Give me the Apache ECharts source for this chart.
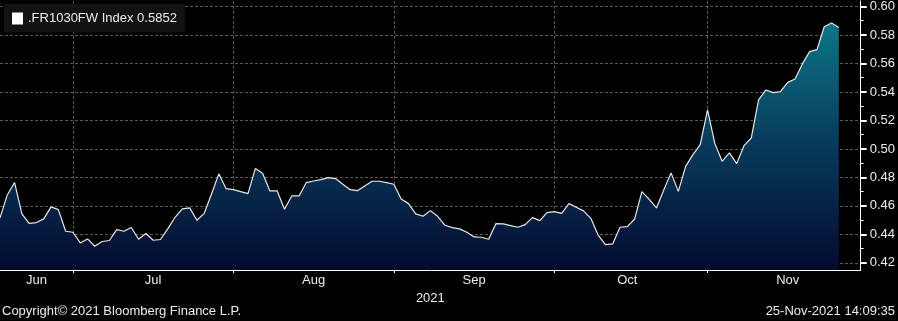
<!DOCTYPE html>
<html>
<head>
<meta charset="utf-8">
<title>.FR1030FW Index</title>
<script src="https://cdn.jsdelivr.net/npm/echarts@6/dist/echarts.min.js"></script>
<style>
  html, body { margin: 0; padding: 0; background: #000; }
  #chart { width: 898px; height: 321px; }
</style>
</head>
<body>
<div id="chart"></div>
<script>
// series name + last value shown in the legend box
const seriesName = '.FR1030FW Index'
const lastValue = '0.5852'

// business-day axis, Jun 17 2021 -> Nov 30 2021 (data stops on Nov 25)
const startDate = '2021-06-17'
const endDate = '2021-11-30'
const monthLabels = ['Jun', 'Jul', 'Aug', 'Sep', 'Oct', 'Nov']
const yearLabel = '2021'

// right axis labels
const yTicks = [0.42, 0.44, 0.46, 0.48, 0.50, 0.52, 0.54, 0.56, 0.58, 0.60]

// values, one per business day
const values = [
  0.4516, 0.4677, 0.4764, 0.4544, 0.4478, 0.4483, 0.4509, 0.4593, 0.4574, 0.4422,
  0.4415, 0.4340, 0.4368, 0.4317, 0.4350, 0.4357, 0.4434, 0.4422, 0.4448, 0.4366,
  0.4406, 0.4359, 0.4364, 0.4439, 0.4520, 0.4579, 0.4586, 0.4499, 0.4548, 0.4684,
  0.4825, 0.4721, 0.4714, 0.4700, 0.4686, 0.4862, 0.4829, 0.4705, 0.4705, 0.4576,
  0.4670, 0.4670,
  0.4764, 0.4775, 0.4785, 0.4799, 0.4792, 0.4752, 0.4714, 0.4707, 0.4740, 0.4773,
  0.4773, 0.4764, 0.4752, 0.4649, 0.4616, 0.4544, 0.4527, 0.4567, 0.4527, 0.4464,
  0.4448, 0.4439, 0.4415, 0.4382, 0.4380, 0.4366, 0.4476, 0.4474, 0.4462, 0.4450,
  0.4469, 0.4518, 0.4497, 0.4553, 0.4560, 0.4548, 0.4616, 0.4590, 0.4565, 0.4513,
  0.4395,
  0.4328, 0.4333, 0.4450, 0.4455, 0.4506, 0.4700, 0.4646, 0.4586, 0.4712, 0.4832,
  0.4702, 0.4878, 0.4960, 0.5030, 0.5274, 0.5039, 0.4913, 0.4972, 0.4897, 0.5023,
  0.5077, 0.5344, 0.5414, 0.5395, 0.5402, 0.5467, 0.5491, 0.5597, 0.5683, 0.5697,
  0.5858, 0.5884, 0.5852
]

const copyrightText = 'Copyright\u00a9 2021 Bloomberg Finance L.P.'
const stampText = '25-Nov-2021 14:09:35'

const fontName = 'Liberation Sans'
const gridColor = 'rgba(175,175,175,0.5)'

// build the weekday list for the category axis
function businessDays(from, to) {
  const out = []
  const d = new Date(from + 'T00:00:00Z')
  const end = new Date(to + 'T00:00:00Z')
  while (d <= end) {
    const wd = d.getUTCDay()
    if (wd !== 0 && wd !== 6) out.push(d.toISOString().slice(0, 10))
    d.setUTCDate(d.getUTCDate() + 1)
  }
  return out
}

const dates = businessDays(startDate, endDate)
const seriesData = dates.map((d, i) => (i < values.length ? values[i] : null))

// first index of every month, and the label slot in the middle of it
const monthStarts = []
dates.forEach((d, i) => {
  if (i === 0 || d.slice(5, 7) !== dates[i - 1].slice(5, 7)) monthStarts.push(i)
})
const labelSlots = monthStarts.map((s, k) => {
  const next = k + 1 < monthStarts.length ? monthStarts[k + 1] : dates.length
  return Math.floor((s + next) / 2)
})

const chart = echarts.init(document.getElementById('chart'))

const option = {
  backgroundColor: '#000',
  animation: false,
  grid: {
    left: 0,
    top: 0,
    right: 37,
    bottom: 51,
    containLabel: false
  },
  legend: {
    left: 4,
    top: 4,
    icon: 'rect',
    itemWidth: 11,
    itemHeight: 12,
    padding: [8, 8, 7, 8],
    backgroundColor: '#121212',
    itemStyle: { color: '#fff' },
    textStyle: { color: '#ececec', fontSize: 13, fontFamily: fontName },
    formatter: name => name + ' ' + lastValue,
    z: 10
  },
  xAxis: {
    type: 'category',
    data: dates,
    boundaryGap: false,
    z: 3,
    name: yearLabel,
    nameLocation: 'middle',
    nameGap: 18,
    nameTextStyle: { color: '#ececec', fontSize: 13, fontFamily: fontName },
    axisLine: { lineStyle: { color: '#fff', width: 1 } },
    axisTick: {
      interval: idx => idx > 0 && monthStarts.includes(idx),
      length: 3,
      lineStyle: { color: '#fff' }
    },
    axisLabel: {
      interval: idx => labelSlots.includes(idx),
      formatter: (v, idx) => monthLabels[labelSlots.indexOf(idx)],
      color: '#ececec',
      fontSize: 13,
      fontFamily: fontName,
      margin: 4
    },
    splitLine: {
      show: true,
      interval: idx => idx > 0 && monthStarts.includes(idx),
      lineStyle: { color: gridColor, type: [3, 2], width: 1 }
    }
  },
  yAxis: {
    type: 'value',
    position: 'right',
    min: 0.415,
    max: 0.604,
    splitNumber: 9,
    minInterval: 0.02,
    maxInterval: 0.02,
    z: 3,
    axisLine: { show: true, lineStyle: { color: '#fff', width: 1 } },
    axisTick: {
      show: true,
      customValues: yTicks,
      length: 6,
      lineStyle: { color: '#fff', width: 2 }
    },
    minorTick: {
      show: true,
      splitNumber: 2,
      length: 3,
      lineStyle: { color: '#fff', width: 1 }
    },
    axisLabel: {
      customValues: yTicks,
      formatter: v => v.toFixed(2),
      color: '#e6ecf6',
      fontSize: 13,
      fontFamily: fontName,
      margin: 9
    },
    splitLine: {
      show: true,
      lineStyle: { color: gridColor, type: [3, 2], width: 1 }
    }
  },
  series: [
    {
      name: seriesName,
      type: 'line',
      data: seriesData,
      showSymbol: false,
      symbol: 'none',
      connectNulls: false,
      itemStyle: { color: '#fff' },
      lineStyle: { color: '#e8e8e8', width: 1.2 },
      areaStyle: {
        origin: 'start',
        opacity: 1,
        color: new echarts.graphic.LinearGradient(0, 0, 0, 1, [
          { offset: 0, color: '#0b7686' },
          { offset: 0.5, color: '#08395a' },
          { offset: 1, color: '#040a30' }
        ])
      }
    }
  ],
  graphic: [
    {
      type: 'text',
      left: 2,
      top: 305,
      style: { text: copyrightText, fill: '#ececec', font: '13px ' + fontName }
    },
    {
      type: 'text',
      right: 3,
      top: 305,
      style: { text: stampText, fill: '#ececec', font: '13px ' + fontName }
    }
  ]
}

chart.setOption(option)
</script>
</body>
</html>
